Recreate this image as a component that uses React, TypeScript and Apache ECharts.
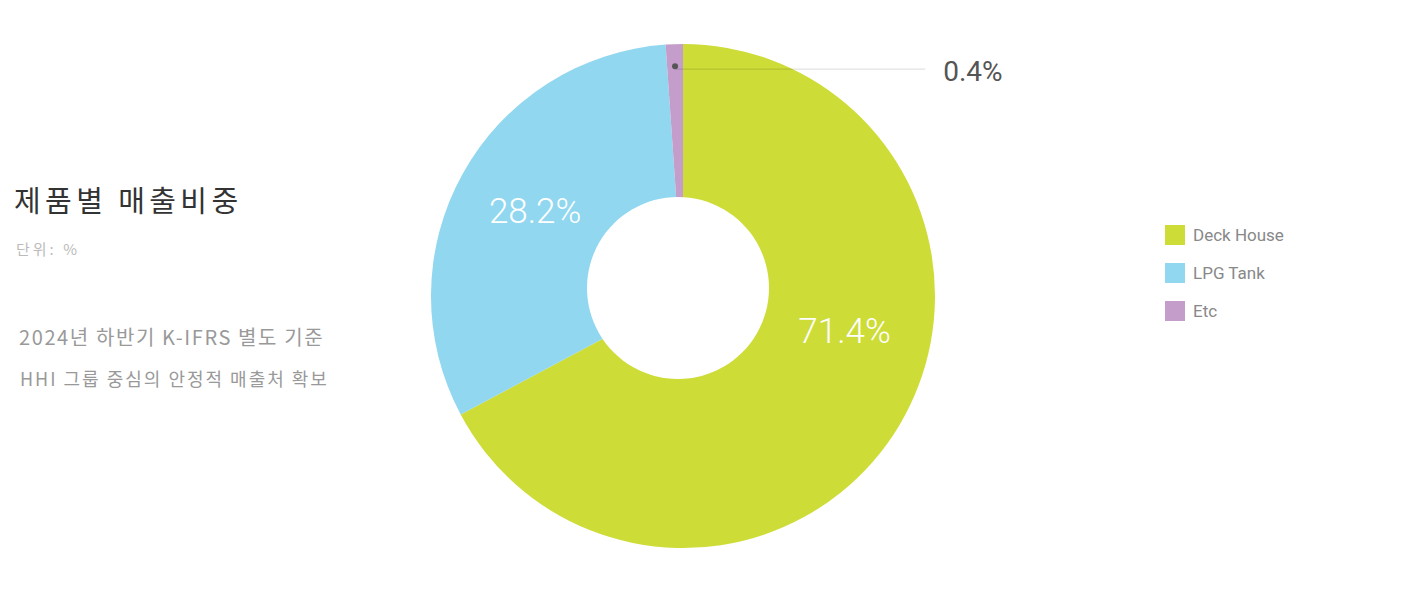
import React, { useEffect, useRef } from "react";
import * as echarts from "echarts";

// Categories and values
const categories = ["Deck House", "LPG Tank", "Etc"];
// angular share of each slice as drawn in the reference (percent of the circle)
const sliceShares = [67.2, 31.7, 1.1];
// printed value labels
const valueLabels = ["71.4%", "28.2%", "0.4%"];

const titleText = "제품별 매출비중";
const unitText = "단위: %";
const noteLines = ["2024년 하반기 K-IFRS 별도 기준", "HHI 그룹 중심의 안정적 매출처 확보"];

const palette = ["#CDDC37", "#91D7F0", "#C49DCB"];

export default function App() {
  const ref = useRef<HTMLDivElement>(null);
  useEffect(() => {
    if (!ref.current) return;
    const chart = echarts.init(ref.current, null, { renderer: "svg" });
    const cx = 683;
    const cy = 296;
    const transparent = "rgba(0,0,0,0)";
    const kr = "'Noto Sans CJK KR', 'Noto Sans', sans-serif";
    const latin = "Roboto, 'Noto Sans', sans-serif";

    const mainData = categories.map((name, i) => ({
      name,
      value: sliceShares[i],
      itemStyle: { color: palette[i] },
      label:
        i === 0
          ? { show: true, offset: [51, -31] }
          : i === 1
          ? { show: true, offset: [-35, -22] }
          : { show: false },
    }));

    const option: any = {
      animation: false,
      title: [
        {
          text: titleText,
          left: 14,
          top: 184,
          padding: 0,
          textStyle: { fontSize: 29, color: "#333", fontWeight: "normal", fontFamily: kr },
        },
        {
          text: unitText,
          left: 16,
          top: 241,
          padding: 0,
          textStyle: { fontSize: 15, color: "#bbb", fontWeight: "normal", fontFamily: kr },
        },
        {
          text: noteLines[0],
          left: 19,
          top: 326,
          padding: 0,
          textStyle: { fontSize: 20, color: "#999", fontWeight: "normal", fontFamily: kr },
        },
        {
          text: noteLines[1],
          left: 20,
          top: 369,
          padding: 0,
          textStyle: { fontSize: 18, color: "#999", fontWeight: "normal", fontFamily: kr },
        },
      ],
      legend: {
        orient: "vertical",
        left: 1160,
        top: 220,
        itemWidth: 20,
        itemHeight: 20,
        itemGap: 18,
        icon: "rect",
        selectedMode: false,
        data: categories,
        textStyle: { color: "#888", fontSize: 17, fontFamily: latin, padding: [0, 0, 0, 3] },
      },
      series: [
        {
          type: "pie",
          z: 2,
          center: [cx, cy],
          radius: [0, 252],
          startAngle: 90,
          clockwise: true,
          silent: true,
          avoidLabelOverlap: false,
          data: mainData,
          label: {
            position: "inside",
            formatter: (p: any) => valueLabels[p.dataIndex],
            color: "#fff",
            fontSize: 35,
            fontFamily: latin,
            fontWeight: 300,
          },
          labelLine: { show: false },
          emphasis: { disabled: true },
        },
        {
          type: "pie",
          z: 3,
          center: [678, 288],
          radius: [0, 91],
          silent: true,
          data: [{ value: 1, name: "hole", itemStyle: { color: "#fff" } }],
          label: { show: false },
          labelLine: { show: false },
          emphasis: { disabled: true },
        },
        {
          type: "pie",
          z: 5,
          center: [cx, cy],
          radius: [0, 227],
          startAngle: 90,
          clockwise: true,
          silent: true,
          avoidLabelOverlap: false,
          data: categories.map((name, i) => ({
            name,
            value: sliceShares[i],
            itemStyle: { color: transparent },
            label: { show: i === 2 },
            labelLine: { show: i === 2 },
          })),
          label: {
            position: "outside",
            formatter: (p: any) => valueLabels[p.dataIndex],
            color: "#555",
            fontSize: 28,
            fontFamily: latin,
          },
          labelLine: { show: true, length: 10, length2: 10, lineStyle: { color: "rgba(0,0,0,0.15)", width: 1 } },
          labelLayout: (params: any) => {
            if (params.dataIndex !== 2) return {};
            let p: number[];
            if (params.labelLinePoints && params.labelLinePoints[0]) {
              p = params.labelLinePoints[0];
            } else {
              p = [params.rect.x + params.rect.width / 2, params.rect.y];
            }
            return {
              x: p[0] + 268,
              y: p[1] + 2,
              align: "left",
              verticalAlign: "middle",
              labelLinePoints: [
                [p[0], p[1]],
                [p[0] + 125, p[1]],
                [p[0] + 250, p[1]],
              ],
            };
          },
          emphasis: { disabled: true },
        },
        {
          type: "pie",
          z: 6,
          center: [cx, cy],
          radius: [222, 232],
          startAngle: 90,
          clockwise: true,
          silent: true,
          avoidLabelOverlap: false,
          data: categories.map((name, i) => ({
            name,
            value: sliceShares[i],
            itemStyle: { color: transparent },
            label: { show: i === 2 },
          })),
          label: {
            position: "inside",
            formatter: "{d|}",
            rich: { d: { width: 6, height: 6, borderRadius: 3, backgroundColor: "#555" } },
          },
          labelLine: { show: false },
          emphasis: { disabled: true },
        },
      ],
    };
    chart.setOption(option);

    const spacing: Record<string, string> = {
      [titleText]: "4.4px",
      [unitText]: "3px",
      [noteLines[0]]: "1.6px",
      [noteLines[1]]: "2px",
    };
    const applySpacing = () => {
      if (!ref.current) return;
      ref.current.querySelectorAll("text").forEach((t) => {
        const s = spacing[(t.textContent || "").trim()];
        if (s) t.setAttribute("letter-spacing", s);
      });
    };
    chart.on("finished", applySpacing);
    applySpacing();
    const timer = setTimeout(applySpacing, 50);
    return () => {
      clearTimeout(timer);
      chart.dispose();
    };
  }, []);
  return (
    <div
      ref={ref}
      style={{ position: "fixed", left: 0, top: 0, width: 1415, height: 613, background: "#fff" }}
    />
  );
}
